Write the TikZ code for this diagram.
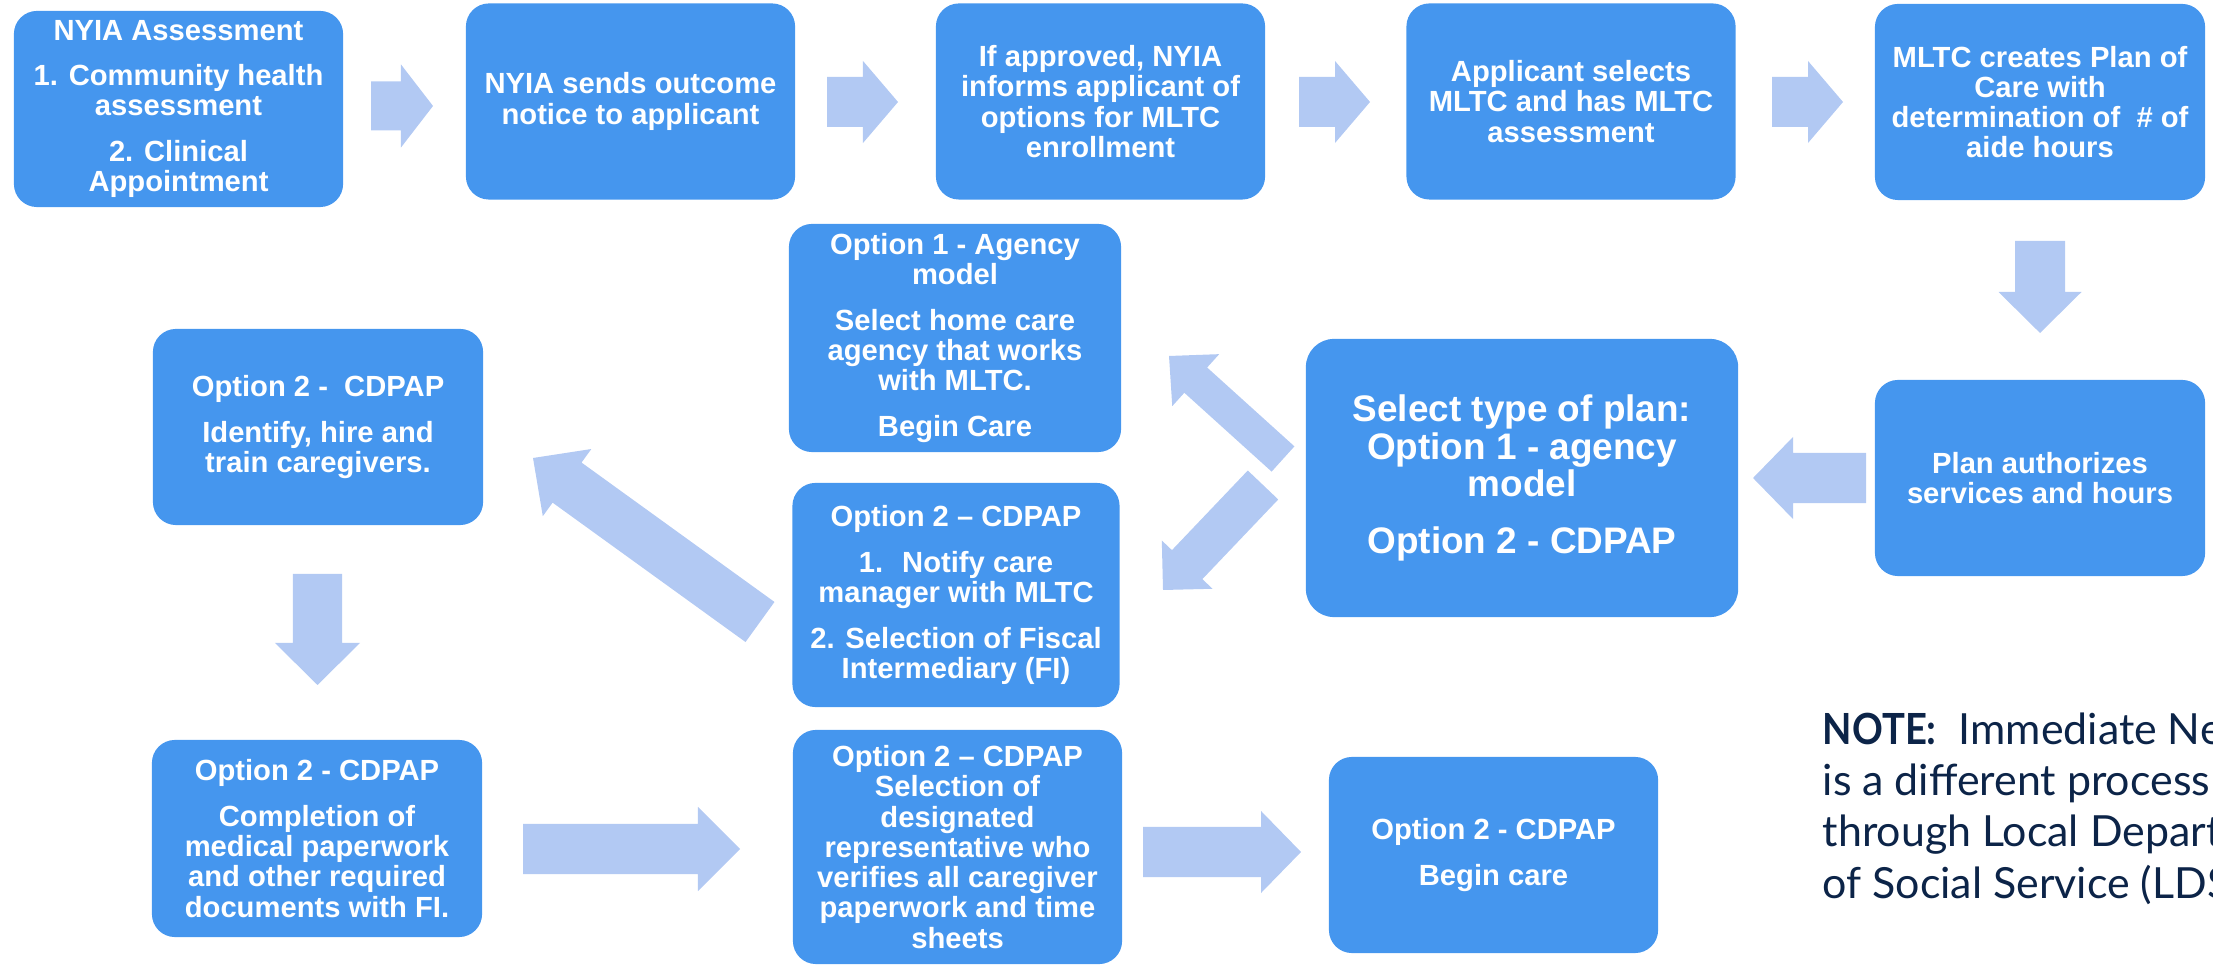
\documentclass[tikz,border=0pt]{standalone}
\usepackage{fontspec}
\setmainfont{Liberation Sans}
\newfontfamily\notefont[BoldFeatures={FakeStretch=0.89}]{Lato}
\usetikzlibrary{calc}
\definecolor{boxblue}{RGB}{69,150,238}
\definecolor{arrowblue}{RGB}{178,201,243}
\definecolor{notenavy}{RGB}{12,36,72}
% block arrow: tail, tip, half shaft, half head, head length
\newcommand{\blockarrow}[5]{%
  \coordinate (hb) at ($(#2)!#5!(#1)$);
  \fill[arrowblue] ($(#1)!#3!90:(#2)$) -- ($(hb)!#3!90:(#2)$) -- ($(hb)!#4!90:(#2)$) -- (#2)
    -- ($(hb)!#4!-90:(#2)$) -- ($(hb)!#3!-90:(#2)$) -- ($(#1)!#3!-90:(#2)$) -- cycle;}
\tikzset{
  box/.style={fill=boxblue, text=white, rounded corners=0.23cm, align=center, inner sep=0pt,
    minimum width=3.29cm, minimum height=1.96cm, font=\bfseries\fontsize{8.3}{8.6}\selectfont},
  planbox/.style={box, minimum width=4.32cm, minimum height=2.78cm, rounded corners=0.28cm,
    font=\bfseries\fontsize{10.5}{10.7}\selectfont},
  notetext/.style={anchor=north west, align=left, inner sep=0pt, text=notenavy,
    font=\notefont\fontsize{12.2}{14.6}\selectfont}
}
\begin{document}
\begin{tikzpicture}[x=0.01cm,y=-0.01cm]
\useasboundingbox (0,0) rectangle (2213,965);
\clip (0,0) rectangle (2213,965);
\node[box] (assess) at (178.5,109) {NYIA Assessment\\[4.4pt] 1. Community health\\ assessment\\[4.4pt] 2. Clinical\\ Appointment};
\node[box] (notice) at (630.5,101.5) {NYIA sends outcome\\ notice to applicant};
\node[box] (inform) at (1100.5,101.5) {If approved, NYIA\\ informs applicant of\\ options for MLTC\\ enrollment};
\node[box] (choose) at (1571,101.5) {Applicant selects\\ MLTC and has MLTC\\ assessment};
\node[box, minimum width=3.30cm] (careplan) at (2040,102) {MLTC creates Plan of\\ Care with\\ determination of~ \# of\\ aide hours};
\node[box, minimum width=3.30cm] (authorize) at (2040,478) {Plan authorizes\\ services and hours};
\node[planbox] (plantype) at (1522,478) {Select type of plan:\\ Option 1 - agency\\ model\\[5.4pt] Option 2 - CDPAP};
\node[box, minimum width=3.32cm, minimum height=2.28cm] (agency) at (955,338) {Option 1 - Agency\\ model\\[4.4pt] Select home care\\ agency that works\\ with MLTC.\\[4.4pt] Begin Care};
\node[box, minimum width=3.27cm, minimum height=2.24cm] (notify) at (956,595) {Option 2 -- CDPAP\\[4.4pt] 1.~ Notify care\\ manager with MLTC\\[4.4pt] 2. Selection of Fiscal\\ Intermediary (FI)};
\node[box, minimum width=3.30cm] (hire) at (318,427) {Option 2 -~ CDPAP\\[4.4pt] Identify, hire and\\ train caregivers.};
\node[box, minimum width=3.30cm, minimum height=1.97cm] (paperwork) at (317,838.5) {Option 2 - CDPAP\\[4.4pt] Completion of\\ medical paperwork\\ and other required\\ documents with FI.};
\node[box, minimum height=2.34cm] (represent) at (957.5,847) {Option 2 -- CDPAP\\ Selection of\\ designated\\ representative who\\ verifies all caregiver\\ paperwork and time\\ sheets};
\node[box] (begincare) at (1493.5,855) {Option 2 - CDPAP\\[4.4pt] Begin care};
\node[notetext] (note) at (1822,712) {\textbf{NOTE:}~ Immediate Need\\ is a different process\\ through Local Department\\ of Social Service (LDSS)};

\coordinate (a1s) at (371,106);   \coordinate (a1e) at (433,106);
\coordinate (a2s) at (827,102);   \coordinate (a2e) at (898,102);
\coordinate (a3s) at (1299,102);  \coordinate (a3e) at (1370,102);
\coordinate (a4s) at (1772,102);  \coordinate (a4e) at (1843,102);
\coordinate (a5s) at (2040,241);  \coordinate (a5e) at (2040,333);
\coordinate (a6s) at (1866,478);  \coordinate (a6e) at (1753,478);
\coordinate (a7s) at (1283,459);  \coordinate (a7e) at (1169,356);
\coordinate (a8s) at (1263,485);  \coordinate (a8e) at (1163,590);
\coordinate (a9s) at (760,622);   \coordinate (a9e) at (533,458);
\coordinate (a10s) at (317.5,574); \coordinate (a10e) at (317.5,685);
\coordinate (a11s) at (523,849);  \coordinate (a11e) at (740,849);
\coordinate (a12s) at (1143,852); \coordinate (a12e) at (1301,852);

\blockarrow{a1s}{a1e}{0.245cm}{0.415cm}{0.32cm}
\blockarrow{a2s}{a2e}{0.25cm}{0.41cm}{0.35cm}
\blockarrow{a3s}{a3e}{0.25cm}{0.41cm}{0.35cm}
\blockarrow{a4s}{a4e}{0.25cm}{0.41cm}{0.35cm}
\blockarrow{a5s}{a5e}{0.25cm}{0.415cm}{0.41cm}
\blockarrow{a6s}{a6e}{0.25cm}{0.41cm}{0.40cm}
\blockarrow{a7s}{a7e}{0.17cm}{0.35cm}{0.36cm}
\blockarrow{a8s}{a8e}{0.21cm}{0.35cm}{0.35cm}
\blockarrow{a9s}{a9e}{0.247cm}{0.414cm}{0.42cm}
\blockarrow{a10s}{a10e}{0.245cm}{0.425cm}{0.42cm}
\blockarrow{a11s}{a11e}{0.25cm}{0.42cm}{0.42cm}
\blockarrow{a12s}{a12e}{0.25cm}{0.41cm}{0.40cm}
\end{tikzpicture}
\end{document}
